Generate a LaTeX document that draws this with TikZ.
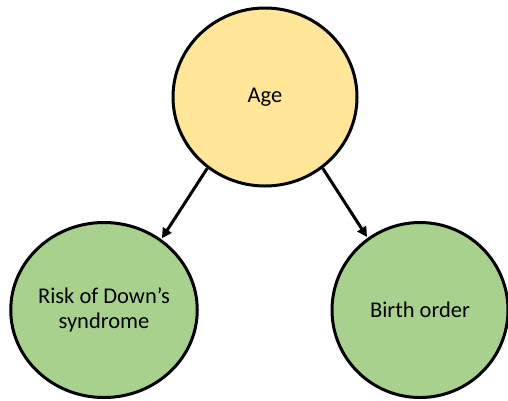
\documentclass[tikz,border=0pt]{standalone}
\usepackage{fontspec}
\setmainfont{Carlito}
\usetikzlibrary{arrows.meta,shapes.geometric}
\definecolor{agefill}{HTML}{FFE699}
\definecolor{outfill}{HTML}{A9D18E}
\tikzset{
  blob/.style={ellipse, draw=black, line width=3pt, inner sep=0pt,
    font=\fontsize{22.5}{25}\selectfont, align=center},
  link/.style={line width=3pt, -{Triangle[length=10pt,width=10pt]}, shorten >=1pt}
}
\begin{document}
\begin{tikzpicture}[x=1pt,y=-1pt]
  \useasboundingbox (0,0) rectangle (508,400);
  \node[blob, fill=agefill, minimum width=184pt, minimum height=178pt] (age) at (265,97) {Age};
  \node[blob, fill=outfill, minimum width=184pt, minimum height=175pt] (risk) at (104,310) {Risk of Down’s\\syndrome};
  \node[blob, fill=outfill, minimum width=176pt, minimum height=175pt] (birth) at (420,310) {Birth order};
  \draw[link] (age.231) -- (risk.51);
  \draw[link] (age.309) -- (birth.126);
\end{tikzpicture}
\end{document}
